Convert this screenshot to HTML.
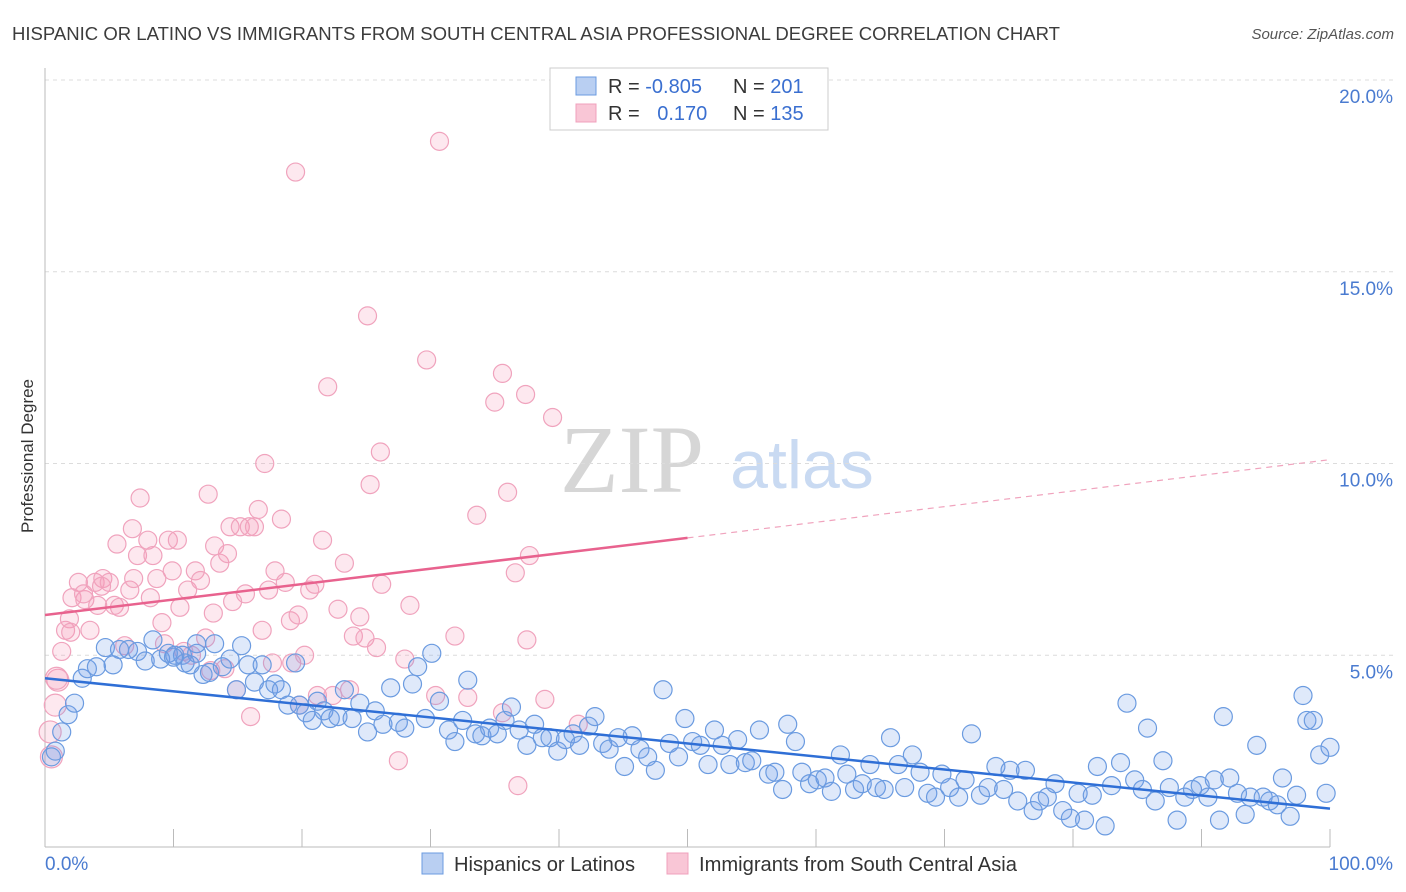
<!DOCTYPE html>
<html><head><meta charset="utf-8"><style>
body{margin:0;background:#fff;font-family:"Liberation Sans",sans-serif}
svg{display:block}
</style></head><body>
<svg id="chart" width="1406" height="892" xmlns="http://www.w3.org/2000/svg">
<text x="12" y="40" font-size="18" fill="#3c3c3c" textLength="1048" lengthAdjust="spacingAndGlyphs">HISPANIC OR LATINO VS IMMIGRANTS FROM SOUTH CENTRAL ASIA PROFESSIONAL DEGREE CORRELATION CHART</text>
<text x="1394" y="39" font-size="15" fill="#555" font-style="italic" text-anchor="end">Source: ZipAtlas.com</text>
<text transform="translate(33,456) rotate(-90)" font-size="17" fill="#333" text-anchor="middle">Professional Degree</text>
<g>
<text x="632" y="492" font-family="Liberation Serif,serif" font-size="96" fill="#d6d6d6" text-anchor="middle">ZIP</text>
<text x="802" y="488" font-size="68" fill="#c9daf2" text-anchor="middle">atlas</text>
</g>
<g id="grid"></g>
<g id="axes"></g>
<g id="pinkpts"></g>
<g id="bluepts"></g>
<g id="lines"></g>
<g>
<rect x="550" y="68" width="278" height="62" fill="#fff" stroke="#ccc"/>
<rect x="576" y="77" width="20" height="18" fill="#b9cff2" stroke="#6b9be0"/>
<rect x="576" y="104" width="20" height="18" fill="#f9c6d6" stroke="#f0a0bc"/>
<text x="608" y="93" font-size="20" fill="#333">R = <tspan fill="#3a6fd0">-0.805</tspan></text>
<text x="733" y="93" font-size="20" fill="#333">N = <tspan fill="#3a6fd0">201</tspan></text>
<text x="608" y="120" font-size="20" fill="#333">R = <tspan fill="#3a6fd0" dx="12">0.170</tspan></text>
<text x="733" y="120" font-size="20" fill="#333">N = <tspan fill="#3a6fd0">135</tspan></text>
</g>
<g>
<rect x="422" y="853" width="21" height="21" fill="#b9cff2" stroke="#6b9be0"/>
<text x="454" y="871" font-size="20" fill="#333" textLength="181" lengthAdjust="spacingAndGlyphs">Hispanics or Latinos</text>
<rect x="667" y="853" width="21" height="21" fill="#f9c6d6" stroke="#f0a0bc"/>
<text x="699" y="871" font-size="20" fill="#333" textLength="318" lengthAdjust="spacingAndGlyphs">Immigrants from South Central Asia</text>
</g>
</svg>
<script>
const yTicks=[5,10,15,20];
const xTickLabels=["0.0%","100.0%"];
const blueX=[0.5,0.8,1.3,1.8,2.3,2.9,3.3,4.0,4.7,5.3,5.8,6.5,7.2,7.8,8.4,9.0,9.6,10.1,10.7,11.3,11.8,12.3,12.8,13.2,13.8,14.4,14.9,15.3,15.8,16.3,16.9,17.4,17.9,18.4,18.9,19.5,19.8,20.3,20.8,21.2,21.7,22.2,22.8,23.3,23.9,24.5,25.1,25.7,26.3,26.9,27.5,28.0,28.6,29.0,29.6,30.1,30.7,31.4,31.9,32.5,32.9,33.5,34.0,34.6,35.2,35.8,36.3,36.9,37.5,38.1,38.7,39.3,39.9,40.5,41.1,41.6,42.3,42.8,43.4,43.9,44.6,45.1,45.7,46.3,46.9,47.5,48.1,48.6,49.3,49.8,50.4,51.0,51.6,52.1,52.7,53.3,53.9,54.5,55.0,55.6,56.3,56.8,57.4,57.8,58.4,58.9,59.5,60.1,60.7,61.2,61.9,62.4,63.0,63.6,64.2,64.7,65.3,65.8,66.4,66.9,67.5,68.1,68.7,69.3,69.8,70.4,71.1,71.6,72.1,72.8,73.4,74.0,74.6,75.1,75.7,76.3,76.9,77.4,78.0,78.6,79.2,79.8,80.4,80.9,81.5,81.9,82.5,83.0,83.7,84.2,84.8,85.4,85.8,86.4,87.0,87.5,88.1,88.7,89.3,89.9,90.5,91.0,91.4,91.7,92.2,92.8,93.4,93.8,94.3,94.8,95.3,95.9,96.3,96.9,97.4,97.9,98.2,98.7,99.2,99.7,100,11.8,10.9,10.0];
const blueY=[2.35,2.5,3.0,3.45,3.75,4.4,4.65,4.7,5.2,4.75,5.15,5.15,5.1,4.85,5.4,4.9,5.05,5.0,5.0,4.75,5.3,4.5,4.55,5.3,4.7,4.9,4.1,5.25,4.75,4.3,4.75,4.1,4.25,4.1,3.7,4.8,3.7,3.5,3.3,3.8,3.55,3.35,3.4,4.1,3.35,3.75,3.0,3.55,3.2,4.15,3.25,3.1,4.25,4.7,3.35,5.05,3.8,3.05,2.75,3.3,4.35,2.95,2.9,3.1,2.95,3.3,3.65,3.05,2.65,3.2,2.85,2.85,2.5,2.8,2.95,2.65,3.15,3.4,2.7,2.55,2.85,2.1,2.9,2.55,2.35,2.0,4.1,2.7,2.35,3.35,2.75,2.65,2.15,3.05,2.65,2.15,2.8,2.2,2.25,3.05,1.9,1.95,1.5,3.2,2.75,1.95,1.65,1.75,1.8,1.45,2.4,1.9,1.5,1.65,2.15,1.55,1.5,2.85,2.15,1.55,2.4,1.95,1.4,1.3,1.9,1.55,1.3,1.75,2.95,1.35,1.55,2.1,1.5,2.0,1.2,2.0,0.95,1.2,1.3,1.65,0.95,0.75,1.4,0.7,1.35,2.1,0.55,1.6,2.2,3.75,1.75,1.5,3.1,1.2,2.25,1.55,0.7,1.3,1.5,1.6,1.3,1.75,0.7,3.4,1.8,1.4,0.85,1.3,2.65,1.3,1.2,1.1,1.8,0.8,1.35,3.95,3.3,3.3,2.4,1.4,2.6,5.05,4.8,4.95];
const pinkX=[0.5,0.8,1.0,1.3,1.6,1.9,2.1,2.6,3.1,3.5,3.9,4.1,4.5,5.0,5.4,5.8,6.2,6.6,6.8,7.2,7.4,8.0,8.4,8.7,9.1,9.6,9.9,10.3,10.5,11.1,11.4,11.7,12.1,12.5,12.7,13.1,13.2,13.6,14.0,14.2,14.4,14.9,15.2,15.6,15.9,16.3,16.6,16.9,17.1,17.4,17.7,17.9,18.4,18.7,19.1,19.2,19.5,19.7,19.8,20.2,20.6,21.0,21.2,21.6,22.0,22.4,22.8,23.3,23.7,24.0,24.5,24.9,25.1,25.3,25.8,26.1,26.2,27.5,28.0,28.4,29.7,30.4,30.7,31.9,32.9,33.6,35.0,35.6,36.0,36.6,36.8,37.4,37.5,37.7,38.9,39.5,41.5,35.6,0.4,0.9,2.0,3.0,4.4,5.6,6.9,8.2,9.3,10.8,12.9,14.6,16.0];
const pinkY=[2.35,3.7,4.35,5.1,5.65,5.95,6.5,6.9,6.45,5.65,6.9,6.3,7.0,6.9,6.3,6.25,5.25,6.7,8.3,7.6,9.1,8.0,7.6,7.0,5.85,8.0,7.2,8.0,6.25,6.7,5.0,7.2,6.95,5.45,9.2,6.1,7.85,7.4,4.65,7.65,8.35,4.1,8.35,6.6,8.35,8.35,8.8,5.65,10.0,6.7,4.8,7.2,8.55,6.9,5.9,4.8,17.6,6.05,3.7,5.0,6.7,6.85,3.95,8.0,12.0,3.95,6.2,7.4,4.1,5.5,6.0,5.45,13.85,9.45,5.2,10.3,6.85,2.25,4.9,6.3,12.7,3.95,18.4,5.5,3.9,8.65,11.6,12.35,9.25,7.15,1.6,11.8,5.4,7.6,3.85,11.2,3.2,3.5,3.0,4.4,5.6,6.6,6.8,7.9,7.0,6.5,5.3,5.1,4.6,6.4,3.4];
const blueTrend=[4.4,1.0];
const pinkTrend=[6.05,8.06,10.1];
const NS="http://www.w3.org/2000/svg";
const X=v=>45+v*12.85;
const Y=v=>847-v*38.35;
function mk(tag,attrs,parent){const e=document.createElementNS(NS,tag);for(const k in attrs)e.setAttribute(k,attrs[k]);document.getElementById(parent).appendChild(e);return e;}
yTicks.forEach(t=>{
 const g=mk('line',{x1:45,x2:1395,y1:Y(t),y2:Y(t),stroke:'#dcdcdc','stroke-dasharray':'4,4'},'grid');
 
 
 const l=mk('text',{x:1393,y:Y(t)+23,'font-size':19,fill:'#4a7bd0','text-anchor':'end'},'grid');
 l.textContent=t.toFixed(1)+'%';
 
 
});
const ax=mk('line',{x1:45,x2:45,y1:68,y2:847,stroke:'#bbb'},'axes');


const bx=mk('line',{x1:45,x2:1330,y1:847,y2:847,stroke:'#bbb'},'axes');


for(let i=0;i<=10;i++){const t=mk('line',{x1:X(i*10),x2:X(i*10),y1:829,y2:847,stroke:'#bbb'},'axes');
 
 }
const xl0=mk('text',{x:45,y:870,'font-size':19,fill:'#4a7bd0'},'axes');xl0.textContent=xTickLabels[0];


const xl1=mk('text',{x:1393,y:870,'font-size':19,fill:'#4a7bd0','text-anchor':'end'},'axes');xl1.textContent=xTickLabels[1];


pinkX.forEach((v,i)=>{const c=mk('circle',{cx:X(v),cy:Y(pinkY[i]),r:v<1.2?11:9,fill:'rgba(244,150,180,0.22)',stroke:'#f0a3bd','stroke-width':1.2},'pinkpts');
 
 });
blueX.forEach((v,i)=>{const c=mk('circle',{cx:X(v),cy:Y(blueY[i]),r:9,fill:'rgba(110,155,230,0.22)',stroke:'#6b9be0','stroke-width':1.2},'bluepts');
 
 });
const bl=mk('line',{x1:X(0),y1:Y(blueTrend[0]),x2:X(100),y2:Y(blueTrend[1]),stroke:'#2f6fd6','stroke-width':2.5},'lines');


const pl=mk('line',{x1:X(0),y1:Y(pinkTrend[0]),x2:X(50),y2:Y(pinkTrend[1]),stroke:'#e8628e','stroke-width':2.5},'lines');


const pd=mk('line',{x1:X(50),y1:Y(pinkTrend[1]),x2:X(100),y2:Y(pinkTrend[2]),stroke:'#f0a3bd','stroke-width':1.2,'stroke-dasharray':'6,5'},'lines');


</script>
</body></html>
